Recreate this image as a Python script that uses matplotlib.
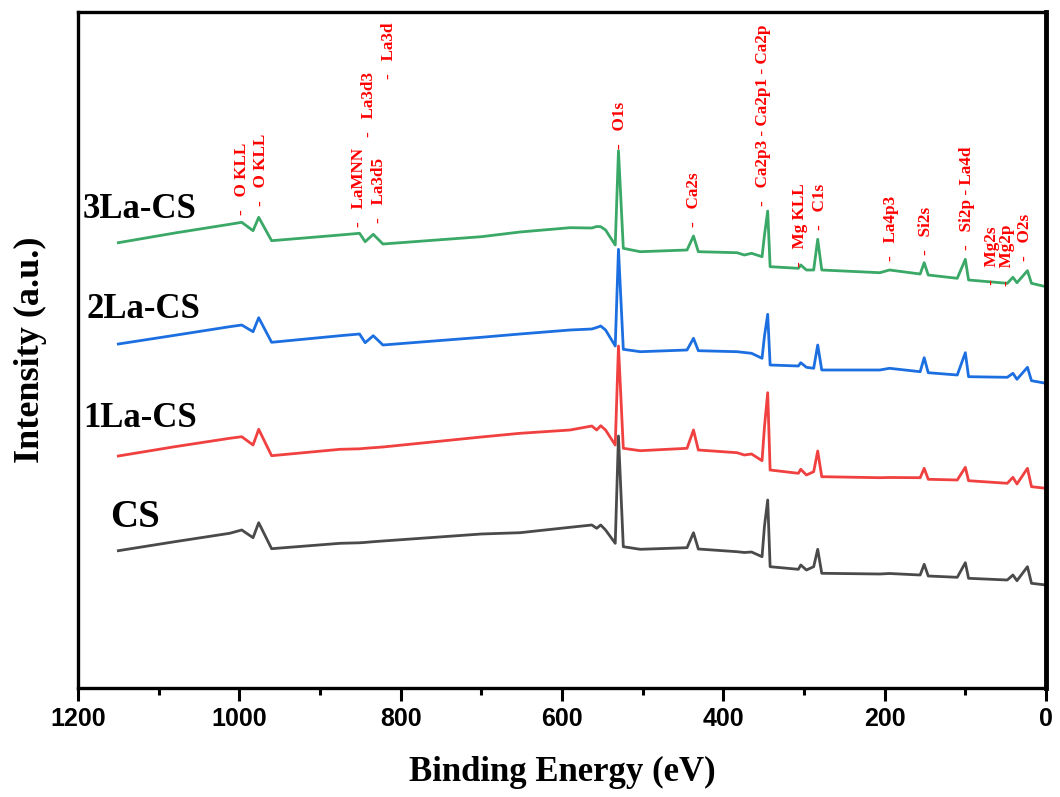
import numpy as np
import matplotlib.pyplot as plt

plt.rcParams['font.family'] = 'Liberation Serif'
plt.rcParams['font.weight'] = 'bold'
plt.rcParams['axes.labelweight'] = 'bold'

# binding energy grid (eV) shared by all survey spectra
energy = [1150, 1080, 1012, 997, 983, 976, 960, 875, 851, 844, 834, 822,
          700, 652, 590, 563, 557, 552, 546, 534, 530, 524, 503, 445, 437,
          431, 383, 374, 365, 352, 349, 345, 342, 307, 304, 297, 288, 283,
          278, 206, 194, 156, 151, 146, 110, 100, 96, 48, 41, 36, 23, 18, 0]

cs = [137.3, 146.3, 154.7, 158.0, 150.3, 165.3, 139.3, 144.7, 145.2, 145.6,
      146.3, 147.0, 154.0, 155.3, 160.7, 163.0, 159.7, 163.0, 158.0, 144.7,
      252.0, 141.3, 138.7, 140.3, 155.3, 139.0, 136.3, 135.5, 136.0, 131.3,
      162.0, 188.0, 121.3, 118.7, 123.0, 118.0, 121.3, 138.7, 114.7, 114.0,
      114.5, 113.0, 123.7, 112.0, 110.7, 125.3, 109.7, 108.0, 113.0, 107.3,
      121.3, 104.7, 103.0]

la1_cs = [137.0, 146.3, 154.7, 156.3, 148.0, 163.7, 137.3, 143.7, 144.2,
          144.7, 145.3, 146.0, 156.0, 159.7, 163.0, 167.0, 163.0, 167.3,
          163.0, 148.0, 247.0, 144.7, 142.3, 144.7, 163.0, 143.0, 140.3,
          138.0, 139.0, 132.3, 166.3, 200.3, 123.0, 119.7, 123.7, 118.0,
          121.3, 142.0, 116.3, 115.3, 115.5, 115.3, 124.7, 113.7, 113.0,
          125.7, 112.3, 109.7, 115.7, 109.0, 124.7, 106.3, 104.7]

la2_cs = [137.0, 145.7, 154.3, 156.0, 149.3, 163.3, 138.7, 145.3, 147.0,
          138.3, 145.3, 136.0, 143.7, 147.0, 151.0, 152.0, 153.5, 155.0,
          151.0, 135.0, 231.7, 131.7, 129.3, 131.0, 142.7, 130.3, 129.3,
          128.5, 127.7, 122.7, 145.0, 166.7, 116.0, 115.0, 118.3, 113.7,
          112.7, 136.0, 111.0, 111.0, 112.7, 109.3, 123.3, 108.3, 106.0,
          128.3, 104.3, 103.7, 107.7, 101.7, 113.7, 100.3, 97.7]

la3_cs = [137.3, 147.0, 155.7, 157.7, 149.3, 162.7, 139.3, 145.0, 146.7,
          138.3, 145.7, 136.0, 143.3, 148.0, 152.3, 152.0, 153.5, 153.3,
          150.0, 135.0, 229.3, 131.7, 128.3, 130.0, 144.0, 128.3, 127.3,
          125.0, 126.7, 123.3, 145.0, 169.0, 113.3, 111.7, 115.0, 110.0,
          110.0, 140.7, 110.0, 107.3, 110.0, 106.0, 117.3, 105.0, 101.7,
          120.7, 100.0, 96.7, 102.7, 97.3, 109.3, 96.7, 93.3]

# stacking offsets and styles, top spectrum drawn first
spectra = [la3_cs, la2_cs, la1_cs, cs]
offsets = [308, 207, 95, 0]
colors = ['#3aa866', '#1c6fe0', '#f04040', '#4a4a4a']

sample_names = ['3La-CS', '2La-CS', '1La-CS', 'CS']
name_x = [1194, 1189, 1194, 1160]
name_y = [470, 370, 261, 161]
name_size = [25, 25, 25, 28]

# peak assignments
peak_names = ['O KLL', 'O KLL', 'LaMNN', 'La3d5', 'La3d3', 'La3d', 'O1s',
              'Ca2s', 'Ca2p3 - Ca2p1 - Ca2p', 'Mg KLL', 'C1s', 'La4p3',
              'Si2s', 'Si2p - La4d', 'Mg2s', 'Mg2p', 'O2s']
peak_energy = [997, 973, 852, 827, 839, 814.5, 528, 436, 350.4, 305, 280,
               192.5, 149, 98.3, 67.3, 47.9, 26]
peak_height = [473, 482, 461, 465, 551, 608.5, 539, 461, 482, 421, 458,
               427, 433, 437.5, 402.5, 402, 427]

fig = plt.figure(figsize=(10.6, 7.97), dpi=100)
ax = fig.add_axes([78 / 1060, 1 - 688 / 797, 968 / 1060, 676 / 797])

for values, off, c in zip(spectra, offsets, colors):
    ax.plot(energy, np.array(values) + off, color=c, lw=2.0)

for name, x, y, s in zip(sample_names, name_x, name_y, name_size):
    ax.text(x, y, name, fontsize=s, ha='left', va='baseline')

for name, x, y in zip(peak_names, peak_energy, peak_height):
    ax.text(x, y, '-   ' + name, fontsize=12.3, color='red', rotation=90,
            ha='center', va='bottom')

ax.set_xlim(1200, 0)
ax.set_ylim(0, 676)
ax.set_yticks([])
ax.set_xticks(range(1200, -1, -200))
ax.set_xticks(range(1100, 0, -200), minor=True)
ax.tick_params(axis='x', which='major', direction='out', length=9, width=2.2,
               pad=5, labelsize=18)
ax.tick_params(axis='x', which='minor', direction='out', length=5, width=2.2)
for lab in ax.get_xticklabels():
    lab.set_fontfamily('Liberation Sans')
    lab.set_fontweight('bold')

for side in ['left', 'bottom', 'top']:
    ax.spines[side].set_linewidth(2.4)
ax.spines['right'].set_linewidth(3.5)

ax.set_xlabel('Binding Energy (eV)', fontsize=25, fontweight='bold')
ax.set_ylabel('Intensity (a.u.)', fontsize=26, fontweight='bold')
ax.xaxis.set_label_coords(0.5, -0.1)
ax.yaxis.set_label_coords(-0.032, 0.5)

plt.savefig('out.png', dpi=100)
